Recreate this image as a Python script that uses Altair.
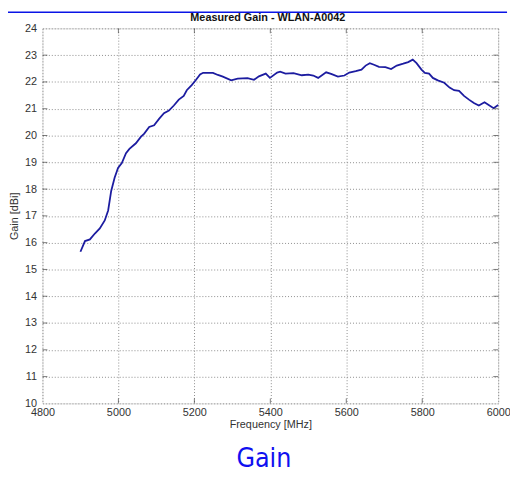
import altair as alt
import pandas as pd

freq = [4900, 4912, 4925, 4938, 4951, 4964, 4973, 4981, 4990, 4999, 5009, 5020, 5029, 5046,
        5059, 5068, 5081, 5094, 5107, 5120, 5133, 5146, 5159, 5172, 5180, 5193, 5204, 5215,
        5223, 5249, 5262, 5275, 5297, 5314, 5340, 5357, 5370, 5388, 5399, 5418, 5426, 5440,
        5461, 5483, 5500, 5513, 5526, 5547, 5560, 5578, 5595, 5608, 5625, 5640, 5651, 5662,
        5673, 5686, 5703, 5718, 5733, 5750, 5763, 5775, 5785, 5798, 5807, 5818, 5828, 5841,
        5858, 5872, 5884, 5897, 5910, 5923, 5936, 5949, 5964, 5975, 5988, 6000]
gain = [15.66, 16.06, 16.12, 16.34, 16.53, 16.83, 17.20, 17.93, 18.42, 18.79, 18.97, 19.34, 19.50, 19.71,
        19.95, 20.07, 20.32, 20.38, 20.62, 20.83, 20.93, 21.12, 21.34, 21.48, 21.69, 21.88, 22.07, 22.28,
        22.34, 22.34, 22.26, 22.20, 22.06, 22.12, 22.14, 22.08, 22.21, 22.31, 22.15, 22.35, 22.38, 22.31,
        22.33, 22.25, 22.27, 22.24, 22.15, 22.36, 22.30, 22.20, 22.24, 22.35, 22.40, 22.46, 22.61, 22.70,
        22.64, 22.56, 22.55, 22.48, 22.61, 22.68, 22.74, 22.83, 22.70, 22.46, 22.34, 22.31, 22.15, 22.06,
        21.97, 21.79, 21.69, 21.67, 21.48, 21.34, 21.21, 21.12, 21.24, 21.14, 21.02, 21.14]

x_ticks = [4800, 5000, 5200, 5400, 5600, 5800, 6000]
y_ticks = list(range(10, 25))

title = "Measured Gain - WLAN-A0042"
x_title = "Frequency [MHz]"
y_title = "Gain [dBi]"
caption = "Gain"

W, H = 463, 381
FONT = "Liberation Sans"

df = pd.DataFrame({"freq": freq, "gain": gain})
xt = pd.DataFrame({"v": x_ticks[1:-1]})
yt = pd.DataFrame({"v": y_ticks[1:-1]})

xs = alt.Scale(domain=[4800, 6000], nice=False, zero=False)
ys = alt.Scale(domain=[10, 24], nice=False, zero=False)

axis_common = dict(format="d", grid=True, gridDash=[1, 2], gridColor="#8c8c8c",
                   ticks=False, domain=False, labelOverlap=False, labelFlush=False,
                   labelFont=FONT, labelFontSize=11, labelColor="#333333",
                   titleFont=FONT, titleFontSize=11, titleFontWeight="normal",
                   titleColor="#333333")
x_axis = alt.Axis(values=x_ticks, labelPadding=3, titlePadding=2, **axis_common)
y_axis = alt.Axis(values=y_ticks, labelPadding=6, titlePadding=5, **axis_common)

line = alt.Chart(df).mark_line(color="#1c1ca0", strokeWidth=1.8).encode(
    x=alt.X("freq:Q", scale=xs, title=x_title, axis=x_axis),
    y=alt.Y("gain:Q", scale=ys, title=y_title, axis=y_axis),
)

tick_col = "#444444"
xt_bottom = alt.Chart(xt).mark_tick(color=tick_col, size=5, thickness=1, orient="vertical").encode(
    x=alt.X("v:Q", scale=xs, title=x_title, axis=x_axis), y=alt.value(H - 2.5))
xt_top = alt.Chart(xt).mark_tick(color=tick_col, size=5, thickness=1, orient="vertical").encode(
    x=alt.X("v:Q", scale=xs, title=x_title, axis=x_axis), y=alt.value(2.5))
yt_left = alt.Chart(yt).mark_tick(color=tick_col, size=5, thickness=1, orient="horizontal").encode(
    y=alt.Y("v:Q", scale=ys, title=y_title, axis=y_axis), x=alt.value(2.5))
yt_right = alt.Chart(yt).mark_tick(color=tick_col, size=5, thickness=1, orient="horizontal").encode(
    y=alt.Y("v:Q", scale=ys, title=y_title, axis=y_axis), x=alt.value(W - 2.5))

top_bar = alt.Chart(pd.DataFrame({"a": [0]})).mark_rule(color="#0a14e6", strokeWidth=1.6).encode(
    x=alt.value(-35), x2=alt.value(472), y=alt.value(-16.3))

ttl = alt.Chart(pd.DataFrame({"t": [title]})).mark_text(
    font=FONT, fontSize=11, fontWeight="bold", color="#111111", align="center", baseline="alphabetic"
).encode(text="t:N", x=alt.value(229), y=alt.value(-7.5))

cap = alt.Chart(pd.DataFrame({"t": [caption]})).mark_text(
    font="DejaVu Sans Condensed, Roboto, sans-serif", fontSize=27, color="#1010f0",
    align="center", baseline="middle"
).encode(text="t:N", x=alt.value(225), y=alt.value(438))

chart = alt.layer(line, xt_bottom, xt_top, yt_left, yt_right, top_bar, ttl, cap).properties(
    width=W, height=H,
    autosize=alt.AutoSizeParams(type="none"),
    padding={"left": 35, "top": 17, "right": 12, "bottom": 64},
).configure_view(stroke="#444444", strokeWidth=1).configure(background="white")

chart.save("out.html", embed_options={"renderer": "svg", "actions": False})
